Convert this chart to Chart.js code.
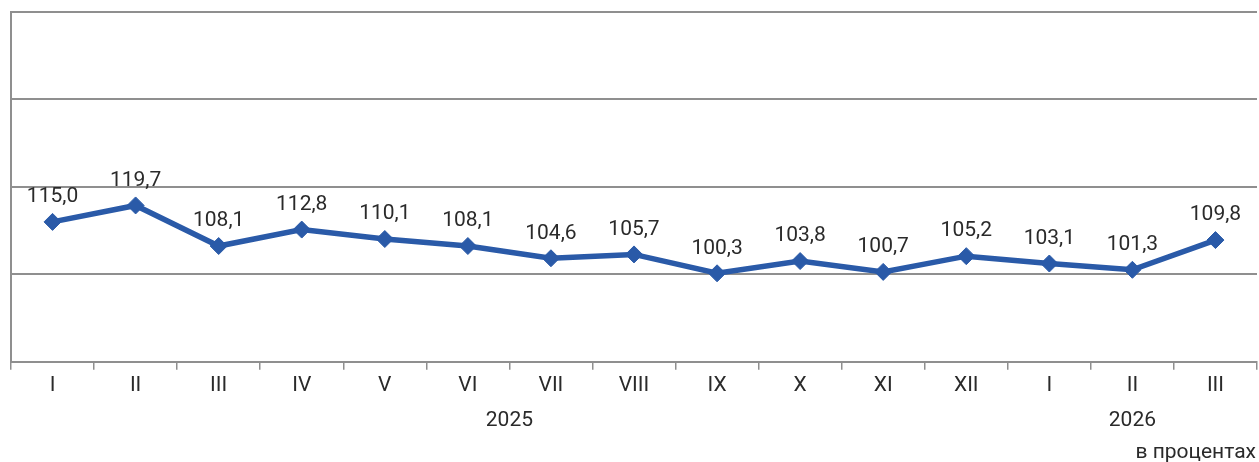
<!DOCTYPE html>
<html><head><meta charset="utf-8">
<script src="https://cdn.jsdelivr.net/npm/chart.js@4"></script>
<style>
html,body{margin:0;padding:0;background:#fff;}
#wrap{position:relative;width:1259px;height:462px;}
#unit{position:absolute;right:3px;top:439px;font:21px Roboto,sans-serif;color:#2a2a2a;line-height:25px;}
</style></head>
<body>
<div id="wrap"><canvas id="c" width="1259" height="462"></canvas><div id="unit">в процентах</div></div>
<script>
const months = ['I','II','III','IV','V','VI','VII','VIII','IX','X','XI','XII','I','II','III'];
const values = [115.0,119.7,108.1,112.8,110.1,108.1,104.6,105.7,100.3,103.8,100.7,105.2,103.1,101.3,109.8];
const years = ['2025','2026'];
const yearFirst = [0,12];
const yearLast = [11,14];
const yTicks = [75,100,125,150,175];

const fmt = v => v.toFixed(1).replace('.', ',');
const blue = '#2A5AA8';
const grey = '#8f8f8f';
const txt = '#2a2a2a';

const labelsPlugin = {
  id:'valLabels',
  afterDatasetsDraw(chart){
    const ctx = chart.ctx;
    const meta = chart.getDatasetMeta(0);
    ctx.save();
    ctx.font = '21px Roboto, sans-serif';
    ctx.fillStyle = txt;
    ctx.textAlign = 'center';
    ctx.textBaseline = 'middle';
    meta.data.forEach((p,i)=>{
      ctx.fillText(fmt(values[i]), p.x, p.y - 25);
    });
    const xs = chart.scales.x;
    years.forEach((y,i)=>{
      const x = (xs.getPixelForValue(yearFirst[i]) + xs.getPixelForValue(yearLast[i]))/2;
      ctx.fillText(y, x, 421);
    });
    ctx.restore();
  }
};

new Chart(document.getElementById('c'), {
  type:'line',
  data:{
    labels: months,
    datasets:[{
      data: values,
      borderColor: blue,
      backgroundColor: blue,
      borderWidth: 5.5,
      tension: 0,
      pointStyle: 'rectRot',
      pointRadius: 8.5,
      pointHoverRadius: 8.5,
      pointBackgroundColor: blue,
      pointBorderColor: blue,
      pointBorderWidth: 1
    }]
  },
  options:{
    responsive:false,
    animation:false,
    events:[],
    layout:{autoPadding:false, padding:{left:11,top:12,right:2,bottom:61}},
    plugins:{legend:{display:false},tooltip:{enabled:false}},
    scales:{
      x:{
        offset:true,
        grid:{display:true, drawOnChartArea:false, drawTicks:true, tickLength:8, color:grey, lineWidth:1.5, offset:true},
        border:{display:true, color:grey, width:2},
        ticks:{font:{family:'Roboto', size:21}, color:txt, padding:3, maxRotation:0, autoSkip:false}
      },
      y:{
        min:75, max:175,
        afterBuildTicks(s){ s.ticks = yTicks.map(v=>({value:v})); },
        ticks:{display:false},
        grid:{color:grey, lineWidth:2, drawTicks:false},
        border:{display:true, color:grey, width:2}
      }
    }
  },
  plugins:[labelsPlugin]
});
</script>
</body></html>
